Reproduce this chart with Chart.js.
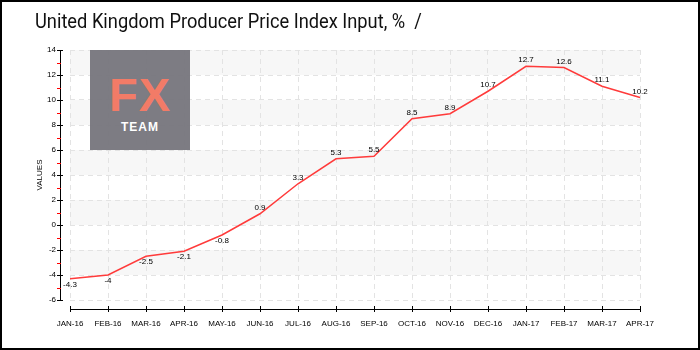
<!DOCTYPE html>
<html>
<head>
<meta charset="utf-8">
<script src="https://cdn.jsdelivr.net/npm/chart.js@4/dist/chart.umd.min.js"></script>
<style>
  html, body { margin: 0; padding: 0; background: #fff; }
  #wrap { position: relative; width: 700px; height: 350px; }
  #frame { position: absolute; left: 0; top: 0; width: 696px; height: 346px; border: 2px solid #000; pointer-events: none; }
  #title { position: absolute; left: 35px; top: 9px; margin: 0; font: 400 21px Roboto, "DejaVu Sans", sans-serif; color: #111; white-space: nowrap; transform: scaleX(0.87); transform-origin: left top; }
  #logo { position: absolute; left: 90px; top: 50px; width: 100px; height: 100px; background: #76757d; opacity: 0.95; text-align: center; font-family: "Liberation Sans", Arial, sans-serif; }
  #logo .fx { color: #f2745f; font-size: 47px; font-weight: bold; line-height: 40px; margin-top: 25px; letter-spacing: 1px; }
  #logo .team { color: #fff; font-size: 12px; font-weight: bold; margin-top: 5px; letter-spacing: 1px; }
</style>
</head>
<body>
<div id="wrap">
  <canvas id="chart" width="700" height="350"></canvas>
  <h1 id="title">United Kingdom Producer Price Index Input, % &nbsp;/</h1>
  <div id="logo"><div class="fx">FX</div><div class="team">TEAM</div></div>
  <div id="frame"></div>
</div>
<script>
const months = ['JAN-16', 'FEB-16', 'MAR-16', 'APR-16', 'MAY-16', 'JUN-16', 'JUL-16', 'AUG-16',
                'SEP-16', 'OCT-16', 'NOV-16', 'DEC-16', 'JAN-17', 'FEB-17', 'MAR-17', 'APR-17'];
const ppiInput = [-4.3, -4, -2.5, -2.1, -0.8, 0.9, 3.3, 5.3, 5.5, 8.5, 8.9, 10.7, 12.7, 12.6, 11.1, 10.2];
const yMin = -6;
const yMax = 14;
const yStep = 2;

const tickFont = { family: '"Liberation Sans", sans-serif', size: 8 };

// alternating grey bands behind the grid
const bands = {
  id: 'bands',
  beforeDraw(chart) {
    const { ctx, chartArea: a, scales: { y } } = chart;
    ctx.save();
    ctx.fillStyle = '#f7f7f7';
    for (let v = yMax; v > yMin; v -= yStep * 2) {
      const top = y.getPixelForValue(v);
      const bot = y.getPixelForValue(v - yStep);
      ctx.fillRect(a.left, top, a.right - a.left, bot - top);
    }
    ctx.restore();
  }
};

// offset axis lines with small tick marks
const axes = {
  id: 'axes',
  afterDraw(chart) {
    const { ctx, chartArea: a, scales: { x, y } } = chart;
    const ax = a.left - 10;
    const ay = a.bottom + 9;
    ctx.save();
    ctx.strokeStyle = '#000';
    ctx.lineWidth = 1;
    ctx.beginPath();
    ctx.moveTo(ax + 0.5, a.top);
    ctx.lineTo(ax + 0.5, a.bottom);
    ctx.moveTo(a.left, ay + 0.5);
    ctx.lineTo(a.right, ay + 0.5);
    for (let v = yMin; v <= yMax; v += yStep) {
      const py = Math.round(y.getPixelForValue(v)) + 0.5;
      ctx.moveTo(ax - 3, py);
      ctx.lineTo(ax + 3, py);
    }
    months.forEach((m, i) => {
      const px = Math.round(x.getPixelForValue(i)) + 0.5;
      ctx.moveTo(px, ay - 3);
      ctx.lineTo(px, ay + 3);
    });
    ctx.stroke();
    ctx.strokeStyle = '#ff0000';
    ctx.beginPath();
    for (let v = yMin + yStep / 2; v < yMax; v += yStep) {
      const py = Math.round(y.getPixelForValue(v)) + 0.5;
      ctx.moveTo(ax - 3, py);
      ctx.lineTo(ax + 1, py);
    }
    ctx.stroke();
    ctx.restore();
  }
};

// value labels: above for positive, below for negative
const valueLabels = {
  id: 'valueLabels',
  afterDatasetsDraw(chart) {
    const { ctx } = chart;
    const meta = chart.getDatasetMeta(0);
    ctx.save();
    ctx.font = '8px "Liberation Sans", sans-serif';
    ctx.fillStyle = '#000';
    ctx.textAlign = 'center';
    ctx.textBaseline = 'middle';
    meta.data.forEach((pt, i) => {
      const v = ppiInput[i];
      ctx.fillText(String(v), pt.x, v < 0 ? pt.y + 6 : pt.y - 6);
    });
    ctx.restore();
  }
};

new Chart(document.getElementById('chart'), {
  type: 'line',
  data: {
    labels: months,
    datasets: [{
      data: ppiInput,
      borderColor: '#ff3b3b',
      borderWidth: 1.5,
      pointRadius: 0,
      tension: 0,
      fill: false
    }]
  },
  options: {
    responsive: false,
    animation: false,
    layout: { padding: { left: 10, right: 60, top: 50, bottom: 20 } },
    plugins: {
      legend: { display: false },
      tooltip: { enabled: false }
    },
    scales: {
      x: {
        offset: false,
        grid: { color: '#e3e3e3', drawTicks: false },
        border: { display: false, dash: [5, 4] },
        ticks: { font: tickFont, color: '#000', padding: 19, maxRotation: 0, autoSkip: false },
        afterFit(s) { s.height = 30; }
      },
      y: {
        min: yMin,
        max: yMax,
        grid: { color: '#e3e3e3', drawTicks: false },
        border: { display: false, dash: [5, 4] },
        ticks: { stepSize: yStep, font: tickFont, color: '#000', padding: 14 },
        title: { display: true, text: 'VALUES', font: tickFont, color: '#000', padding: { top: 25, bottom: 0 } },
        afterFit(s) { s.width = 60; }
      }
    }
  },
  plugins: [bands, axes, valueLabels]
});
</script>
</body>
</html>
